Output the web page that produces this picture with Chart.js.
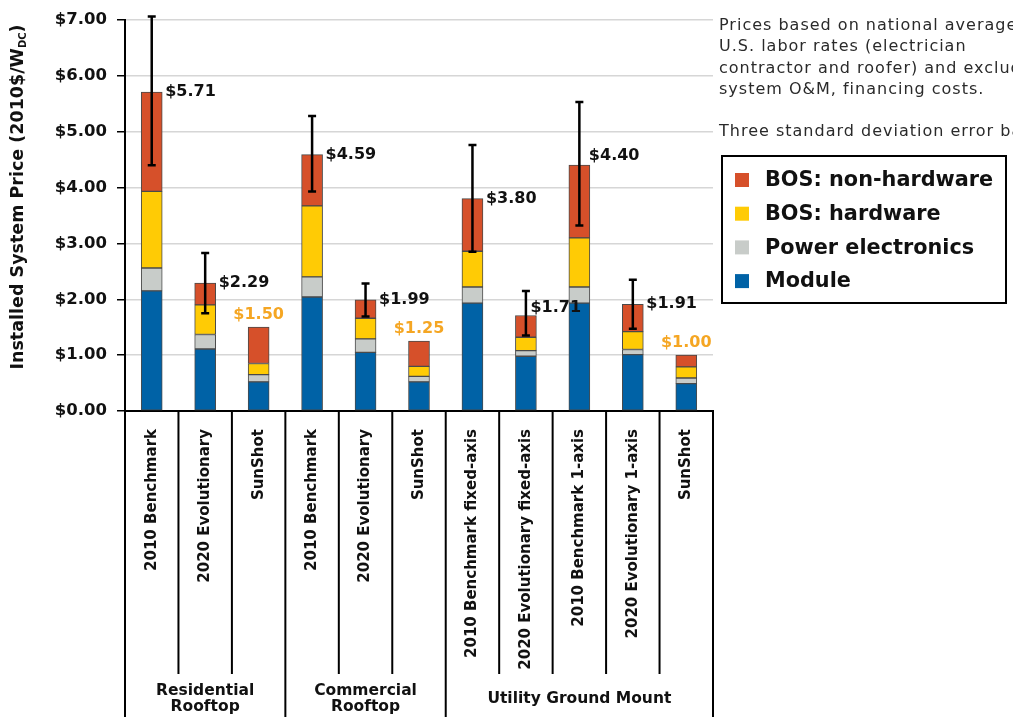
<!DOCTYPE html>
<html>
<head>
<meta charset="utf-8">
<title>Installed System Price</title>
<script src="https://cdn.jsdelivr.net/npm/chart.js@4.4.1/dist/chart.umd.min.js"></script>
<style>
  html, body { margin: 0; padding: 0; background: #fff; }
  canvas { display: block; }
</style>
</head>
<body>
<canvas id="priceChart" width="1013" height="717"></canvas>
<script>
// categories, in drawing order
const categories = [
  '2010 Benchmark', '2020 Evolutionary', 'SunShot',
  '2010 Benchmark', '2020 Evolutionary', 'SunShot',
  '2010 Benchmark fixed-axis', '2020 Evolutionary fixed-axis',
  '2010 Benchmark 1-axis', '2020 Evolutionary 1-axis', 'SunShot'
];
const groupNames = [['Residential', 'Rooftop'], ['Commercial', 'Rooftop'], ['Utility Ground Mount']];
const groupSizes = [3, 3, 5];

// stacked components, $/W
const moduleCost       = [2.15, 1.11, 0.52, 2.04, 1.05, 0.52, 1.93, 0.98, 1.93, 1.01, 0.49];
const powerElectronics = [0.41, 0.26, 0.13, 0.36, 0.24, 0.10, 0.29, 0.10, 0.29, 0.09, 0.10];
const bosHardware      = [1.37, 0.53, 0.20, 1.27, 0.37, 0.18, 0.64, 0.24, 0.88, 0.32, 0.20];
const bosNonHardware   = [1.78, 0.39, 0.65, 0.92, 0.33, 0.45, 0.94, 0.39, 1.30, 0.49, 0.21];

// three std dev error bars (null = none)
const errHigh = [7.06, 2.83, null, 5.28, 2.28, null, 4.76, 2.15, 5.53, 2.35, null];
const errLow  = [4.40, 1.75, null, 3.93, 1.69, null, 2.85, 1.35, 3.32, 1.47, null];

const isSunShot = categories.map(c => c === 'SunShot');

const noteLines = [
  'Prices based on national average',
  'U.S. labor rates (electrician',
  'contractor and roofer) and excludes',
  'system O&M, financing costs.',
  '',
  'Three standard deviation error bars'
];

const FONT = '"DejaVu Sans", sans-serif';
const colors = {
  module: '#0062a6',
  pe: '#c8ccc9',
  hw: '#ffcb05',
  nonhw: '#d6502a',
  sunshot: '#f5a623'
};

// small label nudges where the original moved them off the bar top
const labelNudge = { 7: [-9, -8], 8: [-4, -9] };

const annotate = {
  id: 'annotate',
  afterDatasetsDraw(chart) {
    const ctx = chart.ctx;
    const x = chart.scales.x, y = chart.scales.y;
    const topMeta = chart.getDatasetMeta(3);

    // error bars
    ctx.save();
    ctx.strokeStyle = '#000';
    ctx.lineWidth = 2.5;
    categories.forEach((c, i) => {
      if (errHigh[i] == null) return;
      const px = x.getPixelForValue(i);
      const y1 = y.getPixelForValue(errHigh[i]);
      const y2 = y.getPixelForValue(errLow[i]);
      ctx.beginPath();
      ctx.moveTo(px, y1); ctx.lineTo(px, y2);
      ctx.moveTo(px - 4, y1); ctx.lineTo(px + 4, y1);
      ctx.moveTo(px - 4, y2); ctx.lineTo(px + 4, y2);
      ctx.stroke();
    });

    // totals
    ctx.font = 'bold 16px ' + FONT;
    ctx.textBaseline = 'middle';
    categories.forEach((c, i) => {
      const total = moduleCost[i] + powerElectronics[i] + bosHardware[i] + bosNonHardware[i];
      const txt = '$' + total.toFixed(2);
      const bar = topMeta.data[i];
      if (isSunShot[i]) {
        ctx.fillStyle = colors.sunshot;
        ctx.textAlign = 'center';
        ctx.fillText(txt, bar.x, bar.y - 12);
      } else {
        const n = labelNudge[i] || [0, 0];
        ctx.fillStyle = '#111';
        ctx.textAlign = 'left';
        ctx.fillText(txt, bar.x + bar.width / 2 + 3 + n[0], bar.y + n[1]);
      }
    });
    ctx.restore();
  },
  afterDraw(chart) {
    const ctx = chart.ctx;
    const x = chart.scales.x;
    const area = chart.chartArea;
    const H = chart.height;

    // category separators below the axis
    const half = (x.getPixelForValue(1) - x.getPixelForValue(0)) / 2;
    const groupEdges = [0];
    groupSizes.forEach(s => groupEdges.push(groupEdges[groupEdges.length - 1] + s));
    ctx.save();
    ctx.strokeStyle = '#000';
    ctx.lineWidth = 2;
    for (let k = 0; k <= categories.length; k++) {
      const px = x.getPixelForValue(0) - half + k * half * 2;
      const full = groupEdges.includes(k);
      ctx.beginPath();
      ctx.moveTo(px, area.bottom);
      ctx.lineTo(px, full ? H : 674);
      ctx.stroke();
    }

    // group labels
    ctx.fillStyle = '#111';
    ctx.font = 'bold 15.5px ' + FONT;
    ctx.textAlign = 'center';
    ctx.textBaseline = 'middle';
    groupNames.forEach((lines, g) => {
      const a = x.getPixelForValue(0) - half + groupEdges[g] * half * 2;
      const b = x.getPixelForValue(0) - half + groupEdges[g + 1] * half * 2;
      const cx = (a + b) / 2;
      if (lines.length === 1) {
        ctx.fillText(lines[0], cx, 699);
      } else {
        ctx.fillText(lines[0], cx, 691);
        ctx.fillText(lines[1], cx, 707);
      }
    });

    // y axis title with subscript
    ctx.save();
    ctx.translate(18, 197);
    ctx.rotate(-Math.PI / 2);
    ctx.textAlign = 'left';
    ctx.textBaseline = 'middle';
    const mainFont = 'bold 17.5px ' + FONT;
    const subFont = 'bold 10px ' + FONT;
    const p1 = 'Installed System Price (2010$/W';
    const p2 = 'DC';
    const p3 = ')';
    ctx.font = mainFont;
    const w1 = ctx.measureText(p1).width, w3 = ctx.measureText(p3).width;
    ctx.font = subFont;
    const w2 = ctx.measureText(p2).width;
    let sx = -(w1 + w2 + w3) / 2;
    ctx.font = mainFont;
    ctx.fillText(p1, sx, 0);
    sx += w1;
    ctx.font = subFont;
    ctx.fillText(p2, sx, 5);
    sx += w2;
    ctx.font = mainFont;
    ctx.fillText(p3, sx, 0);
    ctx.restore();

    // note text
    ctx.fillStyle = '#2a2a2a';
    ctx.font = '16px ' + FONT;
    ctx.textAlign = 'left';
    ctx.letterSpacing = '1px';
    noteLines.forEach((line, i) => {
      ctx.fillText(line, 719, 26 + i * 21.2);
    });
    ctx.letterSpacing = '0px';

    // legend box
    ctx.lineWidth = 2;
    ctx.strokeStyle = '#000';
    ctx.strokeRect(722, 156, 284, 147);
    const items = chart.data.datasets.slice().reverse();
    ctx.font = 'bold 20.8px ' + FONT;
    items.forEach((ds, i) => {
      const cy = 180 + i * 33.7;
      ctx.fillStyle = ds.backgroundColor;
      ctx.fillRect(735, cy - 7, 14, 14);
      ctx.fillStyle = '#111';
      ctx.fillText(ds.label, 765, cy + 1);
    });
    ctx.restore();
  }
};

function renderPriceChart() {
  const ctx = document.getElementById('priceChart').getContext('2d');
  Chart.defaults.font.family = FONT;

  const segment = (label, data, color) => ({
    label: label,
    data: data,
    backgroundColor: color,
    borderColor: '#4a4a4a',
    borderWidth: 1,
    borderSkipped: false,
    barThickness: 21
  });

  new Chart(ctx, {
    type: 'bar',
    data: {
      labels: categories,
      datasets: [
        segment('Module', moduleCost, colors.module),
        segment('Power electronics', powerElectronics, colors.pe),
        segment('BOS: hardware', bosHardware, colors.hw),
        segment('BOS: non-hardware', bosNonHardware, colors.nonhw)
      ]
    },
    options: {
      responsive: false,
      animation: false,
      devicePixelRatio: 1,
      layout: { padding: { top: 17, right: 300, left: 0, bottom: 0 } },
      plugins: {
        legend: { display: false },
        tooltip: { enabled: false }
      },
      scales: {
        x: {
          stacked: true,
          grid: { display: false },
          border: { display: true, color: '#000', width: 2 },
          ticks: {
            autoSkip: false,
            maxRotation: 90,
            minRotation: 90,
            padding: 10,
            color: '#111',
            font: { size: 15, weight: 'bold' }
          },
          afterFit: s => { s.height = 306; }
        },
        y: {
          stacked: true,
          min: 0,
          max: 7,
          grid: { color: '#d6d6d6', lineWidth: 1.5, tickColor: '#000', tickLength: 8 },
          border: { display: true, color: '#000', width: 2 },
          ticks: {
            stepSize: 1,
            padding: 10,
            color: '#111',
            font: { size: 16.5, weight: 'bold' },
            callback: v => '$' + Number(v).toFixed(2)
          },
          afterFit: s => { s.width = 125; }
        }
      }
    },
    plugins: [annotate]
  });
}

document.addEventListener('DOMContentLoaded', renderPriceChart);
</script>
</body>
</html>
